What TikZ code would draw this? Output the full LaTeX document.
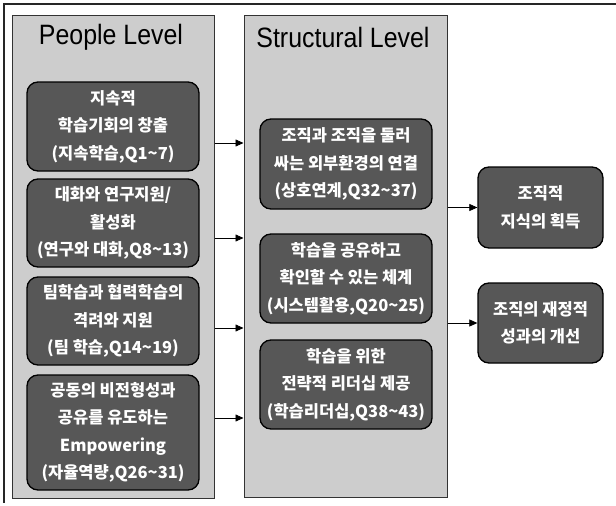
\documentclass[tikz,border=0pt]{standalone}
\usepackage{fontspec}
\setmainfont{Liberation Sans}
\newfontfamily\kr{Noto Sans CJK KR}
\newfontfamily\titlefont[FakeStretch=0.89]{Liberation Sans}
\usetikzlibrary{arrows.meta}
\definecolor{panelgray}{HTML}{CDCDCD}
\definecolor{boxgray}{HTML}{575757}
\newcommand{\tld}{\textasciitilde}
\begin{document}
\begin{tikzpicture}[x=1pt,y=1pt,
  panel/.style={draw=black!80, line width=1pt, fill=panelgray, inner sep=0pt},
  ptitle/.style={font=\titlefont\fontsize{28}{30}\selectfont, text=black, inner sep=0pt},
  sbox/.style={draw=black, line width=1.3pt, fill=boxgray, rounded corners=11pt,
    text=white, font=\kr\bfseries\fontsize{16.5}{27.5}\selectfont, align=center, inner sep=0pt},
  arr/.style={-{Triangle[length=8pt,width=7pt]}, line width=0.7pt, draw=black}]
\useasboundingbox (0,0) rectangle (616,-506);
% outer frame (top and left edges)
\coordinate (ftr) at (616,-4);
\coordinate (ftl) at (4,-4);
\coordinate (fbl) at (4,-503);
\draw[line width=1.4pt, black!85] (ftr) -- (ftl) -- (fbl);
% panels
\node[panel, minimum width=202pt, minimum height=483pt] (pl) at (113,-256.5) {};
\node[panel, minimum width=203pt, minimum height=482pt] (ps) at (345.5,-256) {};
\node[ptitle] (tl) at (111,-37) {People Level};
\node[ptitle] (ts) at (343,-37) {Structural Level};
% people level boxes
\node[sbox, minimum width=172pt, minimum height=89pt] (b1) at (113,-126.5)
  {지속적\\학습기회의 창출\\(지속학습,Q1\tld 7)};
\node[sbox, minimum width=172pt, minimum height=88pt] (b2) at (113,-223)
  {대화와 연구지원/\\활성화\\(연구와 대화,Q8\tld 13)};
\node[sbox, minimum width=172pt, minimum height=88pt] (b3) at (113,-321)
  {팀학습과 협력학습의\\격려와 지원\\(팀 학습,Q14\tld 19)};
\node[sbox, minimum width=172pt, minimum height=115pt] (b4) at (113,-432.5)
  {공동의 비전형성과\\공유를 유도하는\\Empowering\\(자율역량,Q26\tld 31)};
% structural level boxes
\node[sbox, minimum width=172pt, minimum height=90pt] (s1) at (346,-164)
  {조직과 조직을 둘러\\싸는 외부환경의 연결\\(상호연계,Q32\tld 37)};
\node[sbox, minimum width=172pt, minimum height=89pt] (s2) at (346,-278.5)
  {학습을 공유하고\\확인할 수 있는 체계\\(시스템활용,Q20\tld 25)};
\node[sbox, minimum width=172pt, minimum height=89pt] (s3) at (346,-384.5)
  {학습을 위한\\전략적 리더십 제공\\(학습리더십,Q38\tld 43)};
% outcome boxes
\node[sbox, minimum width=125pt, minimum height=81pt] (r1) at (540.5,-207.5)
  {조직적\\지식의 획득};
\node[sbox, minimum width=125pt, minimum height=80pt] (r2) at (540.5,-323)
  {조직의 재정적\\성과의 개선};
% arrows
\draw[arr] (pl.east |- 0,-143) -- (ps.west |- 0,-143);
\draw[arr] (pl.east |- 0,-238) -- (ps.west |- 0,-238);
\draw[arr] (pl.east |- 0,-328) -- (ps.west |- 0,-328);
\draw[arr] (pl.east |- 0,-418) -- (ps.west |- 0,-418);
\draw[arr] (ps.east |- r1.west) -- (r1.west);
\draw[arr] (ps.east |- r2.west) -- (r2.west);
\end{tikzpicture}
\end{document}
